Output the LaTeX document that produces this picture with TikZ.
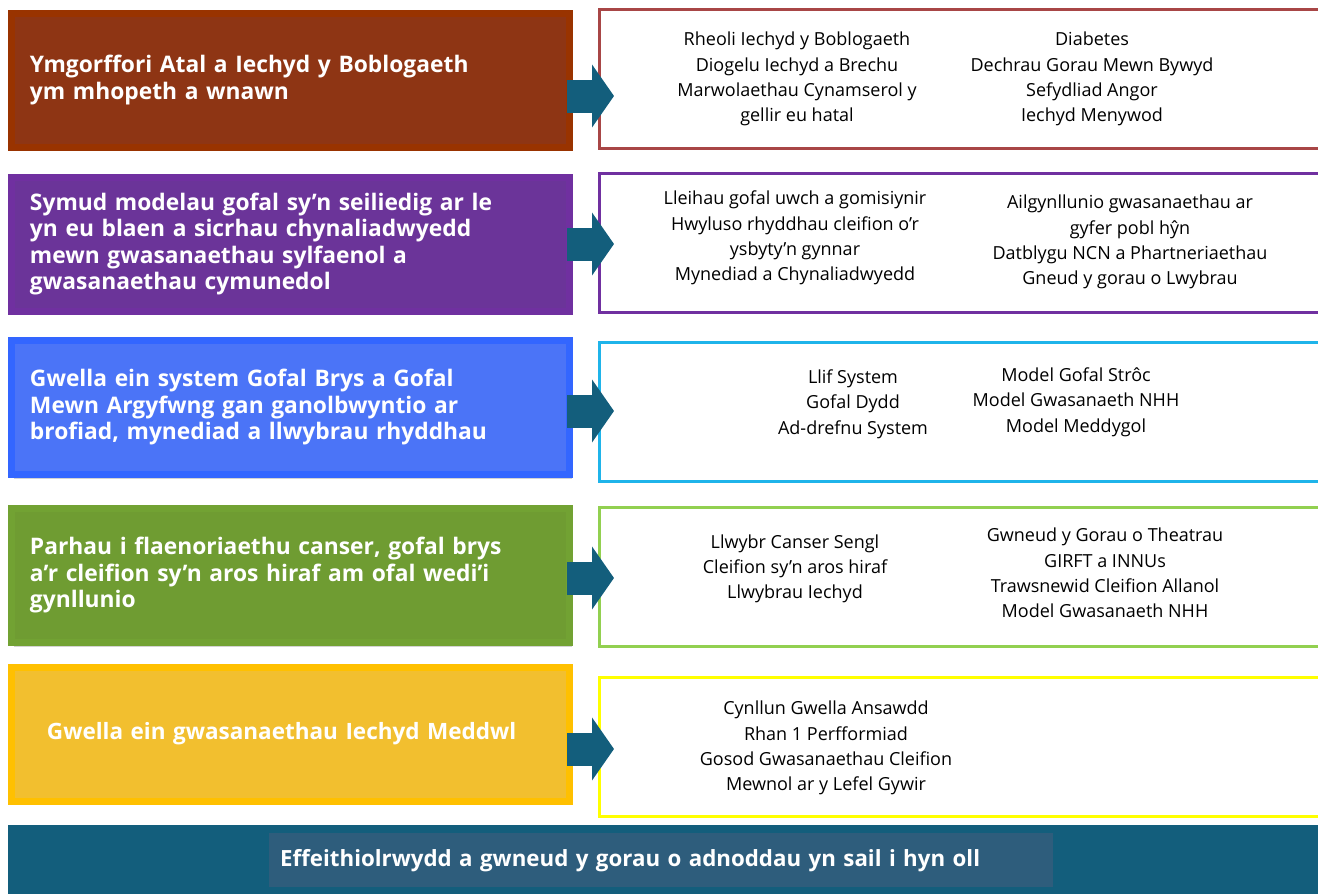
\documentclass[tikz,border=0pt]{standalone}
\usepackage{fontspec}
\setmainfont{Open Sans}
\usetikzlibrary{positioning,shadows,arrows.meta}
\definecolor{brownfill}{HTML}{8E3514}
\definecolor{brownline}{HTML}{993300}
\definecolor{purplefill}{HTML}{6B3499}
\definecolor{purpleline}{HTML}{7030A0}
\definecolor{bluefill}{HTML}{4B74F7}
\definecolor{blueline}{HTML}{3366FF}
\definecolor{greenfill}{HTML}{6F9C32}
\definecolor{greenline}{HTML}{72A233}
\definecolor{yellowfill}{HTML}{F2BF2F}
\definecolor{yellowline}{HTML}{FFC000}
\definecolor{redbox}{HTML}{A84646}
\definecolor{cyanbox}{HTML}{1FB4EA}
\definecolor{limebox}{HTML}{92D050}
\definecolor{yellowbox}{HTML}{FFFF00}
\definecolor{teal}{HTML}{135E7C}
\definecolor{tealtext}{HTML}{2E5D7C}

\begin{document}
\begin{tikzpicture}[x=1pt, y=-1pt,
    prio/.style = {draw, line width=7pt, minimum width=558pt, minimum height=134pt, text width=521pt, inner xsep=18.5pt, align=left, text=white, font=\fontsize{22.8}{26.5}\selectfont\bfseries, drop shadow={shadow xshift=2pt, shadow yshift=-4pt, opacity=0.35}},
    work/.style = {draw, line width=3pt, fill=white, minimum width=730pt, minimum height=139pt, anchor=west},
    item/.style = {align=center, font=\fontsize{18}{25.3}\selectfont},
    arr/.style = {draw=teal, line width=33pt, -{Triangle[length=22pt,width=62pt]}}]
    \useasboundingbox (0,0) rectangle (1318,894);
    \node[prio, fill=brownfill, draw=brownline] (prio1) at (290.5,80) {Ymgorffori Atal a Iechyd y Boblogaeth\\ ym mhopeth a wnawn};
    \node[prio, fill=purplefill, draw=purpleline] (prio2) at (290.5,244) {Symud modelau gofal sy’n seiliedig ar le\\ yn eu blaen a sicrhau chynaliadwyedd\\ mewn gwasanaethau sylfaenol a\\ gwasanaethau cymunedol};
    \node[prio, fill=bluefill, draw=blueline] (prio3) at (290.5,407.5) {Gwella ein system Gofal Brys a Gofal\\ Mewn Argyfwng gan ganolbwyntio ar\\ brofiad, mynediad a llwybrau rhyddhau};
    \node[prio, fill=greenfill, draw=greenline] (prio4) at (290.5,575.5) {Parhau i flaenoriaethu canser, gofal brys\\ a’r cleifion sy’n aros hiraf am ofal wedi’i\\ gynllunio};
    \node[prio, fill=yellowfill, draw=yellowline, align=left, font=\fontsize{22.5}{27}\selectfont\bfseries] (prio5) at (290.5,734) {\hspace*{17pt}Gwella ein gwasanaethau Iechyd Meddwl\\[12pt]};
    \node[work, draw=redbox] (work1) at (598,79) {};
    \node[work, draw=purpleline] (work2) at (598,243) {};
    \node[work, draw=cyanbox] (work3) at (598,412) {};
    \node[work, draw=limebox] (work4) at (598,577) {};
    \node[work, draw=yellowbox] (work5) at (598,747) {};
    \node[item] (w1a) at (797,79) {Rheoli Iechyd y Boblogaeth\\ Diogelu Iechyd a Brechu\\ Marwolaethau Cynamserol y\\ gellir eu hatal};
    \node[item] (w1b) at (1092,79) {Diabetes\\ Dechrau Gorau Mewn Bywyd\\ Sefydliad Angor\\ Iechyd Menywod};
    \node[item] (w2a) at (795,238) {Lleihau gofal uwch a gomisiynir\\ Hwyluso rhyddhau cleifion o’r\\ ysbyty’n gynnar\\ Mynediad a Chynaliadwyedd};
    \node[item] (w2b) at (1130,242) {Ailgynllunio gwasanaethau ar\\ gyfer pobl hŷn\\ Datblygu NCN a Phartneriaethau\\ Gneud y gorau o Lwybrau};
    \node[item] (w3a) at (853,404) {Llif System\\ Gofal Dydd\\ Ad-drefnu System};
    \node[item] (w3b) at (1076,402) {Model Gofal Strôc\\ Model Gwasanaeth NHH\\ Model Meddygol};
    \node[item] (w4a) at (795,569) {Llwybr Canser Sengl\\ Cleifion sy’n aros hiraf\\ Llwybrau Iechyd};
    \node[item] (w4b) at (1105,573) {Gwneud y Gorau o Theatrau\\ GIRFT a INNUs\\ Trawsnewid Cleifion Allanol\\ Model Gwasanaeth NHH};
    \node[item] (w5a) at (826,748) {Cynllun Gwella Ansawdd\\ Rhan 1 Perfformiad\\ Gosod Gwasanaethau Cleifion\\ Mewnol ar y Lefel Gywir};
    \draw[arr] ([xshift=-6pt,yshift=-16pt]prio1.east) -- ([xshift=16pt,yshift=-17pt]work1.west);
    \draw[arr] ([xshift=-6pt,yshift=0pt]prio2.east) -- ([xshift=16pt,yshift=-1pt]work2.west);
    \draw[arr] ([xshift=-6pt,yshift=-3.5pt]prio3.east) -- ([xshift=16pt,yshift=1pt]work3.west);
    \draw[arr] ([xshift=-6pt,yshift=-2.5pt]prio4.east) -- ([xshift=16pt,yshift=-1pt]work4.west);
    \draw[arr] ([xshift=-6pt,yshift=-15pt]prio5.east) -- ([xshift=16pt,yshift=-2pt]work5.west);
    \node[fill=teal, minimum width=1330pt, minimum height=80pt, anchor=north west, inner sep=0pt] (base) at (8,825) {};
    \node[fill=tealtext, minimum height=54pt, text width=762pt, inner xsep=11pt, align=left, anchor=north west, text=white, font=\fontsize{22.3}{26}\selectfont\bfseries] (basetext) at (269,833) {Effeithiolrwydd a gwneud y gorau o adnoddau yn sail i hyn oll};
\end{tikzpicture}
\end{document}
